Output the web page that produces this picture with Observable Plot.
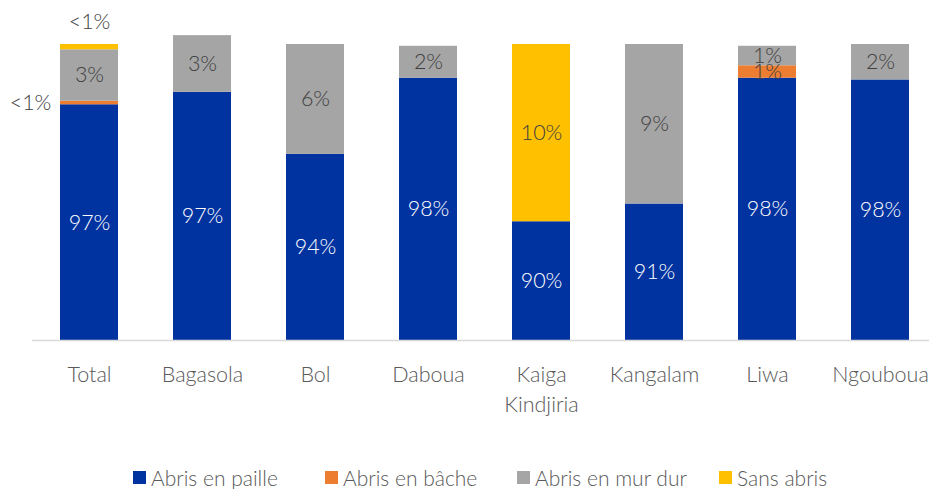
<!DOCTYPE html>
<html>
<head>
<meta charset="utf-8">
<script src="https://cdn.jsdelivr.net/npm/d3@7"></script>
<script src="https://cdn.jsdelivr.net/npm/@observablehq/plot@0.6"></script>
<style>
  body { margin: 0; background: #fff; font-family: Lato, "Open Sans", sans-serif; font-weight: 300; overflow: hidden; }
  #chart { position: relative; width: 929px; height: 489px; }
  #legend { position: absolute; top: 466px; left: 0; width: 929px; height: 23px; font-size: 21px; line-height: 23px; color: #595959; }
  .item { position: absolute; top: 0; display: flex; align-items: center; white-space: nowrap; }
  .sw { width: 13px; height: 13px; margin-right: 5px; }
</style>
</head>
<body>
<div id="chart"></div>
<script>
const categories = ["Total", "Bagasola", "Bol", "Daboua", "Kaiga\nKindjiria", "Kangalam", "Liwa", "Ngouboua"];
const series = ["Abris en paille", "Abris en bâche", "Abris en mur dur", "Sans abris"];
const colors = ["#0033A0", "#ED7D31", "#A5A5A5", "#FFC000"];
const paille    = [96.6, 97.3, 93.8, 98.1, 90.0, 91.0, 98.1, 98.0];
const bache     = [0.2, 0, 0, 0, 0, 0, 0.7, 0];
const murDur    = [2.9, 3.2, 6.2, 1.8, 0, 9.0, 1.1, 2.0];
const sansAbris = [0.3, 0, 0, 0, 10.0, 0, 0, 0];
const yMin = 83.3, yMax = 100;

const valuesBySeries = [paille, bache, murDur, sansAbris];
const rows = [];
const labels = [];
categories.forEach((cat, i) => {
  let cum = 0;
  series.forEach((s, j) => {
    const v = valuesBySeries[j][i];
    if (v > 0) {
      rows.push({cat, series: s, value: v});
      const start = cum, end = cum + v;
      const mid = (Math.max(start, yMin) + end) / 2;
      labels.push({cat, series: s, mid, label: v < 0.5 ? "<1%" : Math.round(v) + "%"});
      cum = end;
    }
  });
});

const isSpecialOrange = d => d.cat === "Total" && d.series === "Abris en bâche";
const isSpecialYellow = d => d.cat === "Total" && d.series === "Sans abris";
const FS = 21.5;

const plot = Plot.plot({
  width: 929,
  height: 440,
  marginLeft: 32,
  marginRight: 0,
  marginTop: 0,
  marginBottom: 100,
  style: {fontFamily: "Lato, 'Open Sans', sans-serif", fontWeight: 300, background: "#fff"},
  x: {type: "band", domain: categories, range: [32, 936], paddingInner: 0.487, paddingOuter: 0.2435, label: null},
  y: {domain: [yMin, yMax], range: [340, 44], axis: null},
  color: {domain: series, range: colors},
  marks: [
    Plot.barY(rows, Plot.stackY({x: "cat", y: "value", fill: "series", clip: true})),
    Plot.ruleY([yMin], {stroke: "#d9d9d9", strokeWidth: 1.5}),
    Plot.axisX({tickSize: 0, tickPadding: 20, fontSize: FS, lineHeight: 1.4, fill: "#595959", label: null}),
    Plot.text(labels.filter(d => d.series === "Abris en paille"), {x: "cat", y: "mid", text: "label", fill: "white", fontSize: FS}),
    Plot.text(labels.filter(d => d.series !== "Abris en paille" && !isSpecialOrange(d) && !isSpecialYellow(d)), {x: "cat", y: "mid", text: "label", fill: "#404040", fontSize: FS}),
    Plot.text(labels.filter(isSpecialOrange), {x: "cat", y: "mid", text: "label", fill: "#404040", fontSize: FS, dx: -59}),
    Plot.text(labels.filter(isSpecialYellow), {x: "cat", y: "mid", text: "label", fill: "#404040", fontSize: FS, dy: -25})
  ]
});
const chart = document.getElementById("chart");
chart.appendChild(plot);

const legendLeft = [133, 325, 517, 719];
const legend = document.createElement("div");
legend.id = "legend";
series.forEach((s, j) => {
  const it = document.createElement("div");
  it.className = "item";
  it.style.left = legendLeft[j] + "px";
  const sw = document.createElement("span");
  sw.className = "sw";
  sw.style.background = colors[j];
  const t = document.createElement("span");
  t.textContent = s;
  it.appendChild(sw);
  it.appendChild(t);
  legend.appendChild(it);
});
chart.appendChild(legend);
</script>
</body>
</html>
